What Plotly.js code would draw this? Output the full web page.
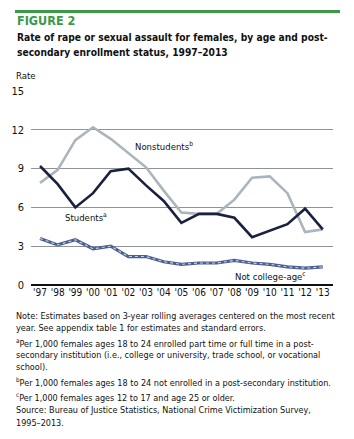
<!DOCTYPE html>
<html>
<head>
<meta charset="utf-8">
<script src="https://cdn.plot.ly/plotly-3.0.1.min.js"></script>
<style>
html,body{margin:0;padding:0;background:#fff;}
#chart{width:354px;height:439px;}
</style>
</head>
<body>
<div id="chart"></div>
<script>
const years = [1997,1998,1999,2000,2001,2002,2003,2004,2005,2006,2007,2008,2009,2010,2011,2012,2013];
const yearLabels = ["'97","'98","'99","'00","'01","'02","'03","'04","'05","'06","'07","'08","'09","'10","'11","'12","'13"];
const nonstudents = [7.9,8.9,11.2,12.2,11.3,10.2,9.1,7.3,5.6,5.5,5.5,6.6,8.3,8.4,7.1,4.1,4.3];
const students = [9.2,7.8,6.0,7.1,8.8,9.0,7.7,6.5,4.8,5.5,5.5,5.2,3.7,4.2,4.7,5.9,4.3];
const notCollegeAge = [3.6,3.1,3.5,2.8,3.0,2.2,2.2,1.8,1.6,1.7,1.7,1.9,1.7,1.6,1.4,1.3,1.4];
const yTicks = [0,3,6,9,12,15];

const FONT = "'Liberation Sans Narrow','DejaVu Sans Condensed','Arial Narrow',sans-serif";
const L = 31, R = 333, T = 91, B = 285;
const px = x => (x - L) / (R - L);
const py = y => (B - y) / (B - T);

const traces = [
  {x: years, y: nonstudents, mode: 'lines', line: {color: '#aab5bc', width: 2.6}, hoverinfo: 'skip'},
  {x: years, y: students, mode: 'lines', line: {color: '#1a2140', width: 2.6}, hoverinfo: 'skip'},
  {x: years, y: notCollegeAge, mode: 'lines', line: {color: '#4a5f8f', width: 3.2}, hoverinfo: 'skip'},
  {x: years, y: notCollegeAge, mode: 'lines', line: {color: '#c8d1e4', width: 1.1, dash: 'dot'}, hoverinfo: 'skip'}
];

const notes = [
  ["Note: Estimates based on 3-year rolling averages centered on the most recent", 316],
  ["year. See appendix table 1 for estimates and standard errors.", 328],
  ["<sup>a</sup>Per 1,000 females ages 18 to 24 enrolled part time or full time in a post-", 343],
  ["secondary institution (i.e., college or university, trade school, or vocational", 355],
  ["school).", 367],
  ["<sup>b</sup>Per 1,000 females ages 18 to 24 not enrolled in a post-secondary institution.", 382],
  ["<sup>c</sup>Per 1,000 females ages 12 to 17 and age 25 or older.", 397],
  ["Source: Bureau of Justice Statistics, National Crime Victimization Survey,", 410],
  ["1995–2013.", 423]
];

const annotations = [
  {text: "<b>FIGURE 2</b>", x: px(15), y: py(21), font: {size: 12.5, color: '#3a9a48', family: FONT}},
  {text: "<b>Rate of rape or sexual assault for females, by age and post-</b>", x: px(15), y: py(37), font: {size: 10.2, color: '#111', family: FONT}},
  {text: "<b>secondary enrollment status, 1997–2013</b>", x: px(15), y: py(52), font: {size: 10.2, color: '#111', family: FONT}},
  {text: "Rate", x: px(14), y: py(75), font: {size: 9.5, color: '#111', family: FONT}},
  {text: "Nonstudents<sup>b</sup>", x: px(133), y: py(146), font: {size: 9.5, color: '#111', family: FONT}},
  {text: "Students<sup>a</sup>", x: px(63), y: py(217), font: {size: 9.5, color: '#111', family: FONT}},
  {text: "Not college-age<sup>c</sup>", x: px(233), y: py(276), font: {size: 9.5, color: '#111', family: FONT}}
].concat(notes.map(n => ({text: n[0], x: px(14), y: py(n[1]), font: {size: 9, color: '#111', family: FONT}})));

annotations.forEach(a => { a.xref = 'paper'; a.yref = 'paper'; a.xanchor = 'left'; a.yanchor = 'middle'; a.showarrow = false; });

const layout = {
  width: 354, height: 439,
  margin: {l: L, r: 354 - R, t: T, b: 439 - B},
  paper_bgcolor: '#fff', plot_bgcolor: '#fff',
  showlegend: false,
  font: {family: FONT, size: 11, color: '#111'},
  xaxis: {
    range: [1996.49, 2013.58], tickvals: years, ticktext: yearLabels,
    showgrid: false, zeroline: false, showline: false, ticks: '',
    tickfont: {size: 10, family: FONT, color: '#111'}, fixedrange: true
  },
  yaxis: {
    range: [0, 15], tickvals: yTicks, ticktext: yTicks.map(String),
    showgrid: true, gridcolor: '#8e9396', gridwidth: 1,
    zeroline: true, zerolinecolor: '#111', zerolinewidth: 2,
    showline: false, ticks: '', ticklabelstandoff: 6,
    tickfont: {size: 11, family: FONT, color: '#111'}, fixedrange: true
  },
  shapes: [
    {type: 'line', xref: 'paper', yref: 'paper', x0: px(15), x1: px(340), y0: py(11.5), y1: py(11.5), line: {color: '#3a9a48', width: 3}}
  ],
  annotations: annotations
};

Plotly.newPlot('chart', traces, layout, {staticPlot: true, displayModeBar: false});
</script>
</body>
</html>
